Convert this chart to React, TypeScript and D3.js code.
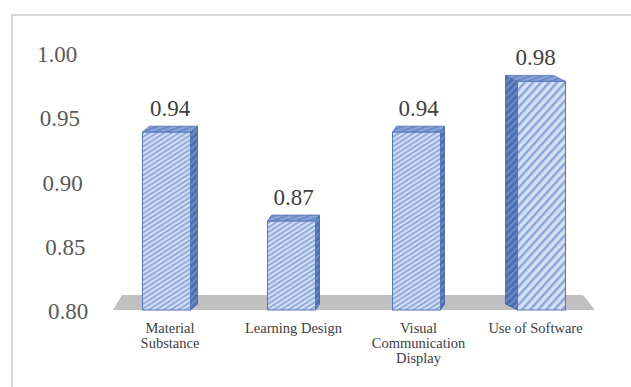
import React from "react";
import * as d3 from "d3";

const categories: string[][] = [
  ["Material", "Substance"],
  ["Learning Design"],
  ["Visual", "Communication", "Display"],
  ["Use of Software"],
];
const values: number[] = [0.94, 0.87, 0.94, 0.98];
const tickValues: number[] = [0.8, 0.85, 0.9, 0.95, 1.0];
const valueLabels: string[] = ["0.94", "0.87", "0.94", "0.98"];

// 3D rendering config (side depth offset per bar, from the perspective view)
const SIDE_DEPTH = [7, 4, 4, -12];
const CAP_RISE = 6;

const W = 631;
const H = 387;
const FONT = "'Liberation Serif', 'Times New Roman', serif";

export default function App() {
  const keys = categories.map((c) => c.join(" "));
  const x = d3
    .scaleBand<string>()
    .domain(keys)
    .range([104, 604])
    .paddingInner(0.616)
    .paddingOuter(0.308);
  const y = d3.scaleLinear().domain([0.8, 1.0]).range([310, 56]);
  const yTick = d3.scaleLinear().domain([0.8, 1.0]).range([319, 62]);
  const xTick = d3.scaleLinear().domain([0.8, 1.0]).range([68, 57]);
  const fmt = d3.format(".2f");
  const bw = x.bandwidth();
  const yB = y(0.8);

  const floorLeft = 113;
  const floorRight = 595;
  const floorPath = d3.path();
  floorPath.moveTo(floorLeft, yB);
  floorPath.lineTo(floorLeft + 9, yB - 15);
  floorPath.lineTo(floorRight - 12, yB - 15);
  floorPath.lineTo(floorRight, yB);
  floorPath.closePath();

  const poly = (pts: [number, number][]) => {
    const p = d3.path();
    pts.forEach(([px, py], i) => (i === 0 ? p.moveTo(px, py) : p.lineTo(px, py)));
    p.closePath();
    return p.toString();
  };

  return (
    <svg
      width={W}
      height={H}
      style={{ position: "fixed", left: 0, top: 0, background: "#fff" }}
    >
      <defs>
        <pattern id="hatch" patternUnits="userSpaceOnUse" width="4" height="4" patternTransform="rotate(-33)">
          <rect width="4" height="4" fill="#d3def3" />
          <rect width="4" height="1.7" fill="#88a3d8" />
        </pattern>
        <pattern id="hatchWide" patternUnits="userSpaceOnUse" width="6" height="6" patternTransform="rotate(-48)">
          <rect width="6" height="6" fill="#d6e1f5" />
          <rect width="6" height="2.4" fill="#8aa5da" />
        </pattern>
        <pattern id="hatchSide" patternUnits="userSpaceOnUse" width="5" height="5" patternTransform="rotate(-45)">
          <rect width="5" height="5" fill="#4d6fb2" />
          <rect width="5" height="1.6" fill="#7391cc" />
        </pattern>
        <pattern id="hatchTop" patternUnits="userSpaceOnUse" width="4" height="4" patternTransform="rotate(-20)">
          <rect width="4" height="4" fill="#8aa4d8" />
          <rect width="4" height="1.5" fill="#6583c2" />
        </pattern>
      </defs>

      <rect x={12} y={15} width={W} height={H} fill="#fff" stroke="#d9d9d9" strokeWidth={2} />

      {tickValues.map((t) => (
        <text
          key={t}
          x={xTick(t)}
          y={yTick(t)}
          textAnchor="middle"
          fontFamily={FONT}
          fontSize={23}
          fill="#595959"
        >
          {fmt(t)}
        </text>
      ))}

      <path d={floorPath.toString()} fill="#c0c0c0" />

      {values.map((v, i) => {
        const x0 = x(keys[i])!;
        const yT = y(v);
        const dx = SIDE_DEPTH[i];
        const dy = CAP_RISE;
        const wide = i === 3;
        const side: [number, number][] =
          dx > 0
            ? [
                [x0 + bw, yT],
                [x0 + bw + dx, yT - dy],
                [x0 + bw + dx, yB - dy],
                [x0 + bw, yB],
              ]
            : [
                [x0, yT],
                [x0 + dx, yT - dy],
                [x0 + dx, yB - dy],
                [x0, yB],
              ];
        const top: [number, number][] = [
          [x0, yT],
          [x0 + bw, yT],
          [x0 + bw + dx, yT - dy],
          [x0 + dx, yT - dy],
        ];
        return (
          <g key={i}>
            <path d={poly(side)} fill="url(#hatchSide)" stroke="#3f5f9f" strokeWidth={0.8} />
            <path d={poly(top)} fill="url(#hatchTop)" stroke="#4f70b0" strokeWidth={0.8} />
            <rect
              x={x0}
              y={yT}
              width={bw}
              height={yB - yT}
              fill={wide ? "url(#hatchWide)" : "url(#hatch)"}
              stroke="#5677b8"
              strokeWidth={1}
            />
            <text
              x={x0 + bw / 2 + dx / 2}
              y={yT - dy - 10}
              textAnchor="middle"
              fontFamily={FONT}
              fontSize={23}
              fill="#404040"
            >
              {valueLabels[i]}
            </text>
          </g>
        );
      })}

      {categories.map((lines, i) => {
        const cx = x(keys[i])! + bw / 2 + SIDE_DEPTH[i] / 2;
        return (
          <text
            key={i}
            textAnchor="middle"
            fontFamily={FONT}
            fontSize={14.5}
            fill="#404040"
          >
            {lines.map((l, j) => (
              <tspan key={j} x={cx} y={333 + j * 15}>
                {l}
              </tspan>
            ))}
          </text>
        );
      })}
    </svg>
  );
}
